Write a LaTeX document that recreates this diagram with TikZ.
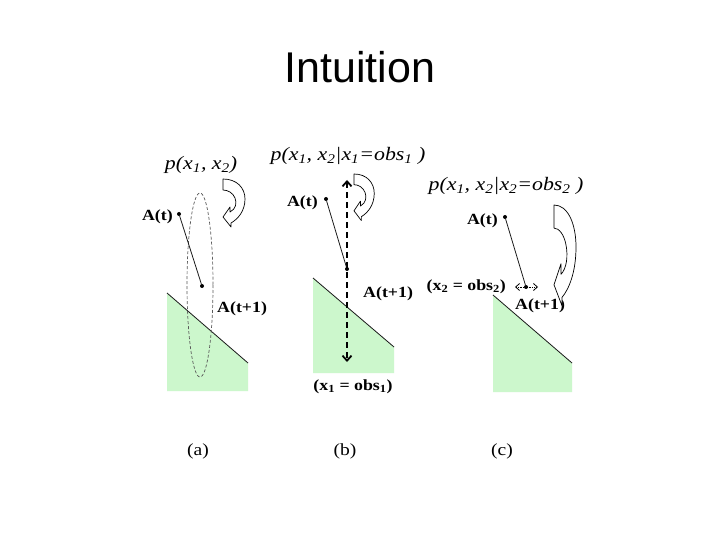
\documentclass[tikz,border=0pt]{standalone}
\usepackage{fontspec}
\setmainfont{Liberation Serif}[FakeStretch=1.15]
\newfontfamily\titlefont{Liberation Sans}
\usetikzlibrary{arrows.meta}
\definecolor{zone}{HTML}{CCF7CC}
\definecolor{ink}{HTML}{1A1A1A}
\tikzset{
  chev/.tip={Straight Barb[length=5pt, width=9pt]},
  smallchev/.tip={Straight Barb[length=4pt, width=7pt]},
  curl/.pic={\draw[fill=white, line width=0.7pt, line join=round]
    (0,0) .. controls (14,0) and (22,9) .. (22,20) .. controls (22,32) and (15,40) .. (8,44)
    -- (8,48) -- (0,38) -- (7,28) -- (7,33)
    .. controls (13,30) and (14,24) .. (12,19) .. controls (10,14) and (5,11) .. (0,11) -- cycle;}
}

\begin{document}
\begin{tikzpicture}[x=1pt, y=-1pt,
    dot/.style={circle, fill=black, inner sep=0pt, minimum size=4pt},
    lab/.style={inner sep=0pt, font=\fontsize{15.5}{18}\selectfont\bfseries},
    prob/.style={inner sep=0pt, font=\fontsize{19}{22}\selectfont\itshape},
    panel/.style={inner sep=0pt, font=\fontsize{17}{20}\selectfont},
    wedge/.style={fill=zone},
    rim/.style={draw=ink, line width=0.8pt}]
  \fill[white] (0,0) rectangle (720,540);
  \useasboundingbox (0,0) rectangle (720,540);
  \node[anchor=base, font=\titlefont\fontsize{43}{50}\selectfont] (title) at (360,83) {Intuition};

  % (a)
  \fill[wedge] (167,293) -- (248,363) -- (248,391) -- (167,391) -- cycle;
  \draw[rim] (167,293) -- (248,363);
  \draw[draw=black!65, line width=0.7pt, dash pattern=on 3pt off 2pt] (200,285) ellipse [x radius=13, y radius=92];
  \node[dot] (ta) at (179,214) {};
  \node[dot] (tna) at (202,286) {};
  \draw[rim] (ta) -- (tna);
  \node[lab, anchor=base east] (lta) at (173,221) {A(t)};
  \node[lab, anchor=base west] (ltna) at (217,312) {A(t+1)};
  \node[prob, anchor=base] (pa) at (201,170) {p(x\textsubscript{1}, x\textsubscript{2})};
  \pic at (223,179) {curl};
  \node[panel, anchor=base] (capa) at (198,455) {(a)};

  % (b)
  \fill[wedge] (313,278) -- (394,347) -- (394,373) -- (313,373) -- cycle;
  \draw[rim] (313,278) -- (394,347);
  \coordinate (topb) at (347,180);
  \coordinate (botb) at (347,362);
  \draw[line width=1.8pt, dash pattern=on 6pt off 4pt, chev-chev] (topb) -- (botb);
  \node[dot] (tb) at (326,199) {};
  \node[dot] (tnb) at (347,269) {};
  \draw[rim] (tb) -- (tnb);
  \node[lab, anchor=base east] (ltb) at (318,207) {A(t)};
  \node[lab, anchor=base west] (ltnb) at (363,297) {A(t+1)};
  \node[prob, anchor=base] (pb) at (348,161) {p(x\textsubscript{1}, x\textsubscript{2}|x\textsubscript{1}=obs\textsubscript{1} )};
  \node[lab, anchor=base] (obsb) at (353,390) {(x\textsubscript{1} = obs\textsubscript{1})};
  \pic[xscale=0.92, yscale=0.97] at (354,174) {curl};
  \node[panel, anchor=base] (capb) at (345,455) {(b)};

  % (c)
  \fill[wedge] (493,295) -- (572,363) -- (572,392) -- (493,392) -- cycle;
  \draw[rim] (493,295) -- (572,363);
  \node[dot] (tc) at (505,217) {};
  \node[dot] (tnc) at (526,287) {};
  \draw[rim] (tc) -- (tnc);
  \coordinate (lc) at (515,287);
  \coordinate (rc) at (538,287);
  \draw[line width=0.8pt, densely dotted, smallchev-smallchev] (lc) -- (rc);
  \node[lab, anchor=base east] (ltc) at (498,225) {A(t)};
  \node[lab, anchor=base west] (ltnc) at (515,309) {A(t+1)};
  \node[lab, anchor=base east] (obsc) at (506,290) {(x\textsubscript{2} = obs\textsubscript{2})};
  \node[prob, anchor=base] (pc) at (506,191) {p(x\textsubscript{1}, x\textsubscript{2}|x\textsubscript{2}=obs\textsubscript{2} )};
  \pic[xscale=1.0, yscale=2.1] at (554,205) {curl};
  \node[panel, anchor=base] (capc) at (502,455) {(c)};
\end{tikzpicture}
\end{document}
